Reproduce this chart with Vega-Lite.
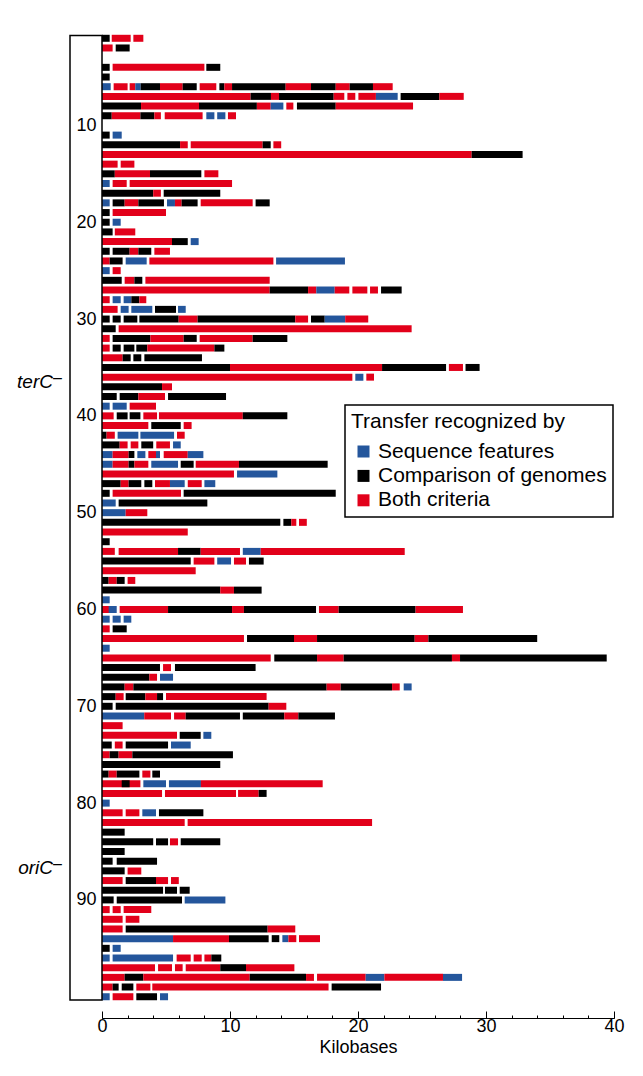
{
"$schema": "https://vega.github.io/schema/vega-lite/v6.json",
"width": 512, "height": 988,
"autosize": {"type": "none"},
"padding": {"left": 102, "top": 30, "right": 29, "bottom": 58},
"background": "white",
"config": {"view": {"stroke": null}, "font": "Liberation Sans", "text": {"font": "Liberation Sans"}},
"resolve": {"axis": {"x": "independent"}},
"layer": [
{
"data": {"values": [
{"r":1,"s":0,"e":0.6,"t":"C"},{"r":1,"s":0.76,"e":2.24,"t":"B"},{"r":1,"s":2.45,"e":3.23,"t":"B"},
{"r":2,"s":0,"e":0.83,"t":"B"},{"r":2,"s":1.07,"e":2.16,"t":"C"},
{"r":4,"s":0,"e":0.6,"t":"C"},{"r":4,"s":0.83,"e":8.0,"t":"B"},{"r":4,"s":8.15,"e":9.24,"t":"C"},
{"r":5,"s":0,"e":0.6,"t":"C"},
{"r":6,"s":0,"e":0.68,"t":"S"},{"r":6,"s":0.91,"e":2.0,"t":"B"},{"r":6,"s":2.16,"e":2.6,"t":"B"},{"r":6,"s":2.6,"e":3.02,"t":"S"},{"r":6,"s":3.02,"e":4.53,"t":"C"},{"r":6,"s":4.53,"e":6.3,"t":"B"},{"r":6,"s":6.3,"e":7.4,"t":"C"},{"r":6,"s":7.63,"e":8.93,"t":"B"},{"r":6,"s":9.17,"e":9.56,"t":"C"},{"r":6,"s":9.56,"e":10.16,"t":"B"},{"r":6,"s":10.16,"e":14.35,"t":"C"},{"r":6,"s":14.35,"e":16.33,"t":"B"},{"r":6,"s":16.33,"e":18.26,"t":"C"},{"r":6,"s":18.26,"e":19.35,"t":"B"},{"r":6,"s":19.35,"e":21.17,"t":"C"},{"r":6,"s":21.17,"e":22.71,"t":"B"},
{"r":7,"s":0,"e":11.61,"t":"B"},{"r":7,"s":11.61,"e":13.2,"t":"C"},{"r":7,"s":13.2,"e":13.83,"t":"B"},{"r":7,"s":13.83,"e":18.1,"t":"C"},{"r":7,"s":18.1,"e":18.93,"t":"B"},{"r":7,"s":19.17,"e":19.79,"t":"B"},{"r":7,"s":20.03,"e":21.4,"t":"B"},{"r":7,"s":21.4,"e":23.1,"t":"S"},{"r":7,"s":23.33,"e":26.35,"t":"C"},{"r":7,"s":26.35,"e":28.26,"t":"B"},
{"r":8,"s":0,"e":3.05,"t":"C"},{"r":8,"s":3.05,"e":7.58,"t":"B"},{"r":8,"s":7.58,"e":12.1,"t":"C"},{"r":8,"s":12.1,"e":13.18,"t":"B"},{"r":8,"s":13.18,"e":14.17,"t":"S"},{"r":8,"s":14.4,"e":14.95,"t":"B"},{"r":8,"s":15.23,"e":18.26,"t":"C"},{"r":8,"s":18.26,"e":24.3,"t":"B"},
{"r":9,"s":0,"e":0.76,"t":"C"},{"r":9,"s":0.76,"e":3.0,"t":"B"},{"r":9,"s":3.0,"e":4.09,"t":"C"},{"r":9,"s":4.09,"e":4.6,"t":"B"},{"r":9,"s":4.9,"e":7.86,"t":"B"},{"r":9,"s":8.15,"e":8.78,"t":"S"},{"r":9,"s":9.0,"e":9.64,"t":"S"},{"r":9,"s":9.84,"e":10.47,"t":"B"},
{"r":11,"s":0,"e":0.6,"t":"C"},{"r":11,"s":0.83,"e":1.54,"t":"S"},
{"r":12,"s":0,"e":6.1,"t":"C"},{"r":12,"s":6.1,"e":6.7,"t":"B"},{"r":12,"s":6.93,"e":12.55,"t":"B"},{"r":12,"s":12.55,"e":13.18,"t":"C"},{"r":12,"s":13.39,"e":14.0,"t":"B"},
{"r":13,"s":0,"e":28.88,"t":"B"},{"r":13,"s":28.88,"e":32.86,"t":"C"},
{"r":14,"s":0,"e":1.22,"t":"B"},{"r":14,"s":1.46,"e":2.53,"t":"B"},
{"r":15,"s":0,"e":1.0,"t":"C"},{"r":15,"s":1.0,"e":3.75,"t":"B"},{"r":15,"s":3.75,"e":7.76,"t":"C"},{"r":15,"s":8.0,"e":9.09,"t":"B"},
{"r":16,"s":0,"e":0.6,"t":"S"},{"r":16,"s":0.83,"e":1.93,"t":"B"},{"r":16,"s":2.16,"e":10.16,"t":"B"},
{"r":17,"s":0,"e":4.0,"t":"C"},{"r":17,"s":4.0,"e":4.6,"t":"B"},{"r":17,"s":4.82,"e":9.24,"t":"C"},
{"r":18,"s":0,"e":0.6,"t":"S"},{"r":18,"s":0.83,"e":1.77,"t":"C"},{"r":18,"s":1.77,"e":2.84,"t":"B"},{"r":18,"s":2.84,"e":4.84,"t":"C"},{"r":18,"s":5.08,"e":5.7,"t":"S"},{"r":18,"s":5.7,"e":6.22,"t":"B"},{"r":18,"s":6.22,"e":7.47,"t":"C"},{"r":18,"s":7.71,"e":11.77,"t":"B"},{"r":18,"s":12.0,"e":13.1,"t":"C"},
{"r":19,"s":0,"e":0.6,"t":"C"},{"r":19,"s":0.83,"e":5.0,"t":"B"},
{"r":20,"s":0,"e":0.6,"t":"C"},{"r":20,"s":0.83,"e":1.46,"t":"S"},
{"r":21,"s":0,"e":0.83,"t":"C"},{"r":21,"s":1.0,"e":2.6,"t":"B"},
{"r":22,"s":0,"e":5.47,"t":"B"},{"r":22,"s":5.47,"e":6.7,"t":"C"},{"r":22,"s":6.93,"e":7.55,"t":"S"},
{"r":23,"s":0,"e":0.6,"t":"C"},{"r":23,"s":0.83,"e":2.16,"t":"C"},{"r":23,"s":2.16,"e":2.84,"t":"B"},{"r":23,"s":2.84,"e":3.85,"t":"C"},{"r":23,"s":4.09,"e":5.31,"t":"B"},
{"r":24,"s":0,"e":0.6,"t":"B"},{"r":24,"s":0.6,"e":1.61,"t":"C"},{"r":24,"s":1.85,"e":3.49,"t":"S"},{"r":24,"s":3.7,"e":13.39,"t":"B"},{"r":24,"s":13.6,"e":18.98,"t":"S"},
{"r":25,"s":0,"e":0.6,"t":"S"},{"r":25,"s":0.83,"e":1.46,"t":"B"},
{"r":26,"s":0,"e":1.54,"t":"C"},{"r":26,"s":1.77,"e":2.53,"t":"B"},{"r":26,"s":2.53,"e":3.15,"t":"C"},{"r":26,"s":3.39,"e":13.1,"t":"B"},
{"r":27,"s":0,"e":13.1,"t":"B"},{"r":27,"s":13.1,"e":16.1,"t":"C"},{"r":27,"s":16.1,"e":16.74,"t":"B"},{"r":27,"s":16.74,"e":18.18,"t":"S"},{"r":27,"s":18.18,"e":19.32,"t":"B"},{"r":27,"s":19.56,"e":20.73,"t":"B"},{"r":27,"s":20.94,"e":21.56,"t":"B"},{"r":27,"s":21.8,"e":23.41,"t":"C"},
{"r":28,"s":0,"e":0.6,"t":"B"},{"r":28,"s":0.83,"e":1.46,"t":"S"},{"r":28,"s":1.69,"e":2.29,"t":"S"},{"r":28,"s":2.29,"e":2.92,"t":"C"},{"r":28,"s":2.92,"e":3.46,"t":"B"},
{"r":29,"s":0,"e":1.22,"t":"B"},{"r":29,"s":1.46,"e":2.08,"t":"S"},{"r":29,"s":2.29,"e":3.93,"t":"S"},{"r":29,"s":4.14,"e":5.78,"t":"C"},{"r":29,"s":5.94,"e":6.54,"t":"S"},
{"r":30,"s":0,"e":0.6,"t":"C"},{"r":30,"s":0.83,"e":1.46,"t":"C"},{"r":30,"s":1.69,"e":2.76,"t":"C"},{"r":30,"s":2.92,"e":5.99,"t":"C"},{"r":30,"s":5.99,"e":7.47,"t":"B"},{"r":30,"s":7.47,"e":15.1,"t":"C"},{"r":30,"s":15.1,"e":16.1,"t":"B"},{"r":30,"s":16.33,"e":17.4,"t":"C"},{"r":30,"s":17.4,"e":19.0,"t":"S"},{"r":30,"s":19.0,"e":20.8,"t":"B"},
{"r":31,"s":0,"e":1.07,"t":"C"},{"r":31,"s":1.3,"e":24.19,"t":"B"},
{"r":32,"s":0,"e":0.6,"t":"B"},{"r":32,"s":0.83,"e":3.78,"t":"C"},{"r":32,"s":3.78,"e":6.38,"t":"B"},{"r":32,"s":6.38,"e":7.4,"t":"C"},{"r":32,"s":7.63,"e":11.77,"t":"B"},{"r":32,"s":11.77,"e":14.48,"t":"C"},
{"r":33,"s":0,"e":0.6,"t":"B"},{"r":33,"s":0.83,"e":1.46,"t":"C"},{"r":33,"s":1.69,"e":2.53,"t":"C"},{"r":33,"s":2.68,"e":3.54,"t":"C"},{"r":33,"s":3.54,"e":8.78,"t":"B"},{"r":33,"s":8.78,"e":9.56,"t":"C"},
{"r":34,"s":0,"e":1.61,"t":"B"},{"r":34,"s":1.61,"e":2.24,"t":"C"},{"r":34,"s":2.45,"e":3.07,"t":"C"},{"r":34,"s":3.31,"e":7.81,"t":"C"},
{"r":35,"s":0,"e":10.0,"t":"C"},{"r":35,"s":10.0,"e":21.88,"t":"B"},{"r":35,"s":21.88,"e":26.88,"t":"C"},{"r":35,"s":27.1,"e":28.2,"t":"B"},{"r":35,"s":28.4,"e":29.5,"t":"C"},
{"r":36,"s":0,"e":19.56,"t":"B"},{"r":36,"s":19.79,"e":20.42,"t":"S"},{"r":36,"s":20.65,"e":21.25,"t":"B"},
{"r":37,"s":0,"e":4.69,"t":"C"},{"r":37,"s":4.69,"e":5.47,"t":"B"},
{"r":38,"s":0,"e":1.15,"t":"C"},{"r":38,"s":1.38,"e":2.84,"t":"C"},{"r":38,"s":2.84,"e":4.92,"t":"B"},{"r":38,"s":5.16,"e":9.69,"t":"C"},
{"r":39,"s":0,"e":0.6,"t":"S"},{"r":39,"s":0.83,"e":1.93,"t":"S"},{"r":39,"s":2.16,"e":4.22,"t":"B"},
{"r":40,"s":0,"e":0.91,"t":"B"},{"r":40,"s":1.15,"e":2.0,"t":"C"},{"r":40,"s":2.16,"e":3.0,"t":"C"},{"r":40,"s":3.23,"e":4.3,"t":"B"},{"r":40,"s":4.45,"e":11.0,"t":"B"},{"r":40,"s":11.0,"e":14.48,"t":"C"},
{"r":41,"s":0,"e":3.62,"t":"B"},{"r":41,"s":3.85,"e":6.15,"t":"C"},{"r":41,"s":6.38,"e":7.0,"t":"B"},
{"r":42,"s":0,"e":0.36,"t":"C"},{"r":42,"s":0.36,"e":1.0,"t":"B"},{"r":42,"s":1.22,"e":2.84,"t":"S"},{"r":42,"s":3.0,"e":5.63,"t":"S"},{"r":42,"s":5.86,"e":6.46,"t":"B"},
{"r":43,"s":0,"e":1.38,"t":"C"},{"r":43,"s":1.38,"e":2.0,"t":"B"},{"r":43,"s":2.24,"e":2.84,"t":"B"},{"r":43,"s":3.07,"e":4.0,"t":"C"},{"r":43,"s":4.24,"e":5.31,"t":"B"},{"r":43,"s":5.55,"e":6.15,"t":"S"},
{"r":44,"s":0,"e":0.83,"t":"S"},{"r":44,"s":0.83,"e":2.08,"t":"B"},{"r":44,"s":2.08,"e":2.53,"t":"C"},{"r":44,"s":2.76,"e":3.39,"t":"S"},{"r":44,"s":3.62,"e":4.22,"t":"B"},{"r":44,"s":4.22,"e":4.53,"t":"S"},{"r":44,"s":4.82,"e":6.7,"t":"B"},{"r":44,"s":6.7,"e":7.92,"t":"S"},
{"r":45,"s":0,"e":0.83,"t":"S"},{"r":45,"s":0.83,"e":2.08,"t":"B"},{"r":45,"s":2.08,"e":2.53,"t":"C"},{"r":45,"s":2.53,"e":3.62,"t":"B"},{"r":45,"s":3.85,"e":5.94,"t":"S"},{"r":45,"s":6.15,"e":7.16,"t":"C"},{"r":45,"s":7.32,"e":10.7,"t":"B"},{"r":45,"s":10.7,"e":17.63,"t":"C"},
{"r":46,"s":0,"e":10.31,"t":"B"},{"r":46,"s":10.55,"e":13.7,"t":"S"},
{"r":47,"s":0,"e":1.46,"t":"C"},{"r":47,"s":1.46,"e":2.08,"t":"B"},{"r":47,"s":2.08,"e":3.07,"t":"C"},{"r":47,"s":3.31,"e":3.93,"t":"C"},{"r":47,"s":4.14,"e":5.31,"t":"B"},{"r":47,"s":5.31,"e":6.46,"t":"S"},{"r":47,"s":6.7,"e":7.79,"t":"B"},{"r":47,"s":8.0,"e":8.85,"t":"S"},
{"r":48,"s":0,"e":0.6,"t":"C"},{"r":48,"s":0.83,"e":6.17,"t":"B"},{"r":48,"s":6.38,"e":18.26,"t":"C"},
{"r":49,"s":0,"e":1.07,"t":"S"},{"r":49,"s":1.3,"e":8.23,"t":"C"},
{"r":50,"s":0,"e":1.85,"t":"S"},{"r":50,"s":1.85,"e":3.54,"t":"B"},
{"r":51,"s":0,"e":13.93,"t":"C"},{"r":51,"s":14.17,"e":14.79,"t":"C"},{"r":51,"s":14.79,"e":15.18,"t":"B"},{"r":51,"s":15.39,"e":16.0,"t":"B"},
{"r":52,"s":0,"e":6.7,"t":"B"},
{"r":53,"s":0,"e":0.6,"t":"C"},
{"r":54,"s":0,"e":1.0,"t":"B"},{"r":54,"s":1.3,"e":5.94,"t":"B"},{"r":54,"s":5.94,"e":7.71,"t":"C"},{"r":54,"s":7.71,"e":10.78,"t":"B"},{"r":54,"s":11.0,"e":12.4,"t":"S"},{"r":54,"s":12.4,"e":23.65,"t":"B"},
{"r":55,"s":0,"e":6.93,"t":"C"},{"r":55,"s":7.16,"e":8.78,"t":"B"},{"r":55,"s":9.0,"e":10.08,"t":"S"},{"r":55,"s":10.31,"e":11.25,"t":"B"},{"r":55,"s":11.48,"e":12.63,"t":"C"},
{"r":56,"s":0,"e":7.32,"t":"B"},
{"r":57,"s":0,"e":0.52,"t":"C"},{"r":57,"s":0.52,"e":1.15,"t":"B"},{"r":57,"s":1.15,"e":1.77,"t":"C"},{"r":57,"s":2.0,"e":2.6,"t":"B"},
{"r":58,"s":0,"e":9.24,"t":"C"},{"r":58,"s":9.24,"e":10.31,"t":"B"},{"r":58,"s":10.31,"e":12.47,"t":"C"},
{"r":59,"s":0,"e":0.6,"t":"S"},
{"r":60,"s":0,"e":1.07,"t":"B"},{"r":60,"s":0.52,"e":1.15,"t":"S"},{"r":60,"s":1.38,"e":5.16,"t":"B"},{"r":60,"s":5.16,"e":10.16,"t":"C"},{"r":60,"s":10.16,"e":11.09,"t":"B"},{"r":60,"s":11.09,"e":16.72,"t":"C"},{"r":60,"s":16.95,"e":18.49,"t":"B"},{"r":60,"s":18.49,"e":24.5,"t":"C"},{"r":60,"s":24.5,"e":28.2,"t":"B"},
{"r":61,"s":0,"e":0.6,"t":"S"},{"r":61,"s":0.83,"e":1.46,"t":"S"},{"r":61,"s":1.69,"e":2.29,"t":"S"},
{"r":62,"s":0,"e":0.6,"t":"B"},{"r":62,"s":0.83,"e":1.93,"t":"C"},
{"r":63,"s":0,"e":11.09,"t":"B"},{"r":63,"s":11.33,"e":15.0,"t":"C"},{"r":63,"s":15.0,"e":16.8,"t":"B"},{"r":63,"s":16.8,"e":24.43,"t":"C"},{"r":63,"s":24.43,"e":25.5,"t":"B"},{"r":63,"s":25.5,"e":34.0,"t":"C"},
{"r":64,"s":0,"e":0.6,"t":"S"},
{"r":65,"s":0,"e":13.18,"t":"B"},{"r":65,"s":13.46,"e":16.8,"t":"C"},{"r":65,"s":16.8,"e":18.88,"t":"B"},{"r":65,"s":18.88,"e":27.34,"t":"C"},{"r":65,"s":27.34,"e":27.97,"t":"B"},{"r":65,"s":27.97,"e":39.43,"t":"C"},
{"r":66,"s":0,"e":4.53,"t":"C"},{"r":66,"s":4.77,"e":5.39,"t":"B"},{"r":66,"s":5.7,"e":12.0,"t":"C"},
{"r":67,"s":0,"e":3.7,"t":"C"},{"r":67,"s":3.7,"e":4.3,"t":"B"},{"r":67,"s":4.53,"e":5.55,"t":"S"},
{"r":68,"s":0,"e":1.77,"t":"C"},{"r":68,"s":1.77,"e":2.45,"t":"B"},{"r":68,"s":2.45,"e":17.55,"t":"C"},{"r":68,"s":17.55,"e":18.65,"t":"B"},{"r":68,"s":18.65,"e":22.66,"t":"C"},{"r":68,"s":22.66,"e":23.26,"t":"B"},{"r":68,"s":23.57,"e":24.19,"t":"S"},
{"r":69,"s":0,"e":1.07,"t":"C"},{"r":69,"s":1.07,"e":1.69,"t":"B"},{"r":69,"s":1.85,"e":3.39,"t":"C"},{"r":69,"s":3.39,"e":4.3,"t":"B"},{"r":69,"s":4.3,"e":4.77,"t":"C"},{"r":69,"s":5.0,"e":12.86,"t":"B"},
{"r":70,"s":0,"e":0.83,"t":"C"},{"r":70,"s":1.07,"e":13.02,"t":"C"},{"r":70,"s":13.02,"e":14.4,"t":"B"},
{"r":71,"s":0,"e":3.3,"t":"S"},{"r":71,"s":3.3,"e":5.39,"t":"B"},{"r":71,"s":5.63,"e":6.54,"t":"B"},{"r":71,"s":6.54,"e":10.78,"t":"C"},{"r":71,"s":11.0,"e":14.24,"t":"C"},{"r":71,"s":14.24,"e":15.34,"t":"B"},{"r":71,"s":15.34,"e":18.2,"t":"C"},
{"r":72,"s":0,"e":1.61,"t":"B"},
{"r":73,"s":0,"e":5.86,"t":"B"},{"r":73,"s":6.07,"e":7.71,"t":"C"},{"r":73,"s":7.92,"e":8.54,"t":"S"},
{"r":74,"s":0,"e":0.76,"t":"C"},{"r":74,"s":1.0,"e":1.61,"t":"B"},{"r":74,"s":1.85,"e":5.16,"t":"C"},{"r":74,"s":5.39,"e":6.93,"t":"S"},
{"r":75,"s":0,"e":0.6,"t":"B"},{"r":75,"s":0.6,"e":1.3,"t":"C"},{"r":75,"s":1.3,"e":2.37,"t":"B"},{"r":75,"s":2.37,"e":10.23,"t":"C"},
{"r":76,"s":0,"e":9.24,"t":"C"},
{"r":77,"s":0,"e":0.52,"t":"C"},{"r":77,"s":0.52,"e":1.15,"t":"B"},{"r":77,"s":1.15,"e":2.92,"t":"C"},{"r":77,"s":3.15,"e":3.78,"t":"B"},{"r":77,"s":3.93,"e":4.53,"t":"C"},
{"r":78,"s":0,"e":3.0,"t":"B"},{"r":78,"s":1.54,"e":2.16,"t":"C"},{"r":78,"s":3.23,"e":5.0,"t":"S"},{"r":78,"s":5.23,"e":7.73,"t":"S"},{"r":78,"s":7.73,"e":17.24,"t":"B"},
{"r":79,"s":0,"e":4.69,"t":"B"},{"r":79,"s":4.92,"e":10.47,"t":"B"},{"r":79,"s":10.63,"e":12.24,"t":"B"},{"r":79,"s":12.24,"e":12.86,"t":"C"},
{"r":80,"s":0,"e":0.6,"t":"S"},
{"r":81,"s":0,"e":1.61,"t":"B"},{"r":81,"s":1.85,"e":2.92,"t":"B"},{"r":81,"s":3.15,"e":4.22,"t":"S"},{"r":81,"s":4.45,"e":7.92,"t":"C"},
{"r":82,"s":0,"e":6.46,"t":"B"},{"r":82,"s":6.69,"e":21.1,"t":"B"},
{"r":83,"s":0,"e":1.77,"t":"C"},
{"r":84,"s":0,"e":4.0,"t":"C"},{"r":84,"s":4.22,"e":5.16,"t":"C"},{"r":84,"s":5.31,"e":5.94,"t":"B"},{"r":84,"s":6.15,"e":9.24,"t":"C"},
{"r":85,"s":0,"e":1.77,"t":"C"},
{"r":86,"s":0,"e":0.83,"t":"C"},{"r":86,"s":1.15,"e":4.3,"t":"C"},
{"r":87,"s":0,"e":1.77,"t":"C"},{"r":87,"s":2.0,"e":3.07,"t":"B"},
{"r":88,"s":0,"e":1.61,"t":"B"},{"r":88,"s":1.85,"e":4.22,"t":"C"},{"r":88,"s":4.22,"e":5.16,"t":"B"},{"r":88,"s":5.39,"e":6.0,"t":"B"},
{"r":89,"s":0,"e":4.77,"t":"C"},{"r":89,"s":4.92,"e":5.86,"t":"C"},{"r":89,"s":6.07,"e":6.85,"t":"C"},
{"r":90,"s":0,"e":0.91,"t":"C"},{"r":90,"s":1.15,"e":6.25,"t":"C"},{"r":90,"s":6.46,"e":9.64,"t":"S"},
{"r":91,"s":0,"e":0.6,"t":"B"},{"r":91,"s":0.83,"e":1.46,"t":"B"},{"r":91,"s":1.69,"e":3.85,"t":"B"},
{"r":92,"s":0,"e":1.61,"t":"B"},{"r":92,"s":1.85,"e":2.92,"t":"B"},
{"r":93,"s":0,"e":1.61,"t":"B"},{"r":93,"s":1.85,"e":12.94,"t":"C"},{"r":93,"s":12.94,"e":15.1,"t":"B"},
{"r":94,"s":0,"e":5.55,"t":"S"},{"r":94,"s":5.55,"e":9.92,"t":"B"},{"r":94,"s":9.92,"e":13.02,"t":"C"},{"r":94,"s":13.26,"e":13.85,"t":"C"},{"r":94,"s":14.09,"e":14.56,"t":"S"},{"r":94,"s":14.56,"e":15.18,"t":"B"},{"r":94,"s":15.39,"e":17.03,"t":"B"},
{"r":95,"s":0,"e":0.6,"t":"C"},{"r":95,"s":0.83,"e":1.46,"t":"S"},
{"r":96,"s":0,"e":0.6,"t":"S"},{"r":96,"s":0.83,"e":5.55,"t":"S"},{"r":96,"s":5.83,"e":6.93,"t":"B"},{"r":96,"s":7.16,"e":7.79,"t":"B"},{"r":96,"s":8.0,"e":8.54,"t":"B"},{"r":96,"s":8.54,"e":9.32,"t":"C"},
{"r":97,"s":0,"e":4.14,"t":"B"},{"r":97,"s":4.38,"e":5.47,"t":"B"},{"r":97,"s":5.7,"e":6.3,"t":"B"},{"r":97,"s":6.54,"e":9.24,"t":"B"},{"r":97,"s":9.24,"e":11.25,"t":"C"},{"r":97,"s":11.25,"e":15.03,"t":"B"},
{"r":98,"s":0,"e":1.77,"t":"B"},{"r":98,"s":1.77,"e":3.23,"t":"C"},{"r":98,"s":3.23,"e":11.54,"t":"B"},{"r":98,"s":11.54,"e":15.94,"t":"C"},{"r":98,"s":15.94,"e":16.56,"t":"B"},{"r":98,"s":16.8,"e":20.6,"t":"B"},{"r":98,"s":20.6,"e":22.06,"t":"S"},{"r":98,"s":22.06,"e":26.64,"t":"B"},{"r":98,"s":26.64,"e":28.13,"t":"S"},
{"r":99,"s":0,"e":0.83,"t":"B"},{"r":99,"s":0.83,"e":1.3,"t":"C"},{"r":99,"s":1.54,"e":2.45,"t":"C"},{"r":99,"s":2.68,"e":3.78,"t":"B"},{"r":99,"s":3.93,"e":17.7,"t":"B"},{"r":99,"s":17.94,"e":21.8,"t":"C"},
{"r":100,"s":0,"e":0.6,"t":"S"},{"r":100,"s":0.83,"e":2.45,"t":"B"},{"r":100,"s":2.68,"e":4.3,"t":"C"},{"r":100,"s":4.53,"e":5.16,"t":"S"}
]},
"mark": {"type": "bar", "height": 7},
"encoding": {
"x": {"field": "s", "type": "quantitative", "scale": {"domain": [0, 40], "nice": false, "zero": false},
 "axis": {"title": "Kilobases", "orient": "bottom", "values": [0,10,20,30,40], "labelOverlap": false, "labelFlush": false, "labelBound": false,
  "tickSize": -7, "domainColor": "black", "tickColor": "black", "labelColor": "black", "titleColor": "black",
  "labelFontSize": 18, "titleFontSize": 18, "titleFontWeight": "normal", "labelPadding": 6, "titlePadding": 3, "grid": false, "labelFont": "Liberation Sans", "titleFont": "Liberation Sans"}},
"x2": {"field": "e"},
"y": {"field": "r", "type": "quantitative", "scale": {"domain": [0.66, 101.68], "reverse": true, "nice": false, "zero": false},
 "axis": {"title": null, "values": [10,20,30,40,50,60,70,80,90], "domain": false, "ticks": false, "labelPadding": 6, "labelFontSize": 18, "labelColor": "black", "grid": false, "labelFont": "Liberation Sans"}},
"color": {"field": "t", "type": "nominal", "scale": {"domain": ["S","C","B"], "range": ["#24569c","#000000","#e2001a"]},
 "legend": {"title": "Transfer recognized by", "orient": "none", "legendX": 243, "legendY": 375,
  "labelExpr": "datum.value === 'S' ? 'Sequence features' : datum.value === 'C' ? 'Comparison of genomes' : 'Both criteria'",
  "symbolType": "square", "symbolSize": 144, "symbolStrokeWidth": 0, "symbolOpacity": 1, "symbolOffset": 2,
  "titleFontSize": 21, "labelFontSize": 21, "titleFontWeight": "normal", "titleColor": "black", "labelColor": "black",
  "titleFont": "Liberation Sans", "labelFont": "Liberation Sans", "labelLimit": 0, "titleLimit": 0,
  "strokeColor": "black", "fillColor": "white", "padding": 6, "titlePadding": 9, "rowPadding": 2.4, "labelOffset": 4,
  "encode": {"legend": {"update": {"strokeWidth": {"value": 1.5}}}}}}
}
},
{
"data": {"values": [{"x1": -2.5, "x2": 0, "y1": 0.71, "y2": 100.33}]},
"mark": {"type": "rect", "fill": "transparent", "stroke": "black", "strokeWidth": 1.5, "clip": false},
"encoding": {
"x": {"field": "x1", "type": "quantitative", "axis": {"orient": "bottom", "title": null, "values": [0,2,4,6,8,10,12,14,16,18,20,22,24,26,28,30,32,34,36,38,40], "labels": false, "domain": false, "tickSize": -3, "tickColor": "black", "grid": false}},
"x2": {"field": "x2"}, "y": {"field": "y1", "type": "quantitative"}, "y2": {"field": "y2"}}
},
{
"data": {"values": [{"lab": "terC", "x": -2.5, "r": 36.55}, {"lab": "oriC", "x": -2.5, "r": 86.7}]},
"mark": {"type": "text", "align": "right", "baseline": "middle", "dx": -17, "fontSize": 19, "fontStyle": "italic", "font": "Liberation Sans", "color": "black", "clip": false},
"encoding": {"x": {"field": "x", "type": "quantitative", "axis": null}, "y": {"field": "r", "type": "quantitative"}, "text": {"field": "lab"}}
},
{
"data": {"values": [{"lab": "–", "x": -2.5, "r": 36.55}, {"lab": "–", "x": -2.5, "r": 86.7}]},
"mark": {"type": "text", "align": "left", "baseline": "middle", "dx": -17, "dy": -4, "fontSize": 16, "font": "Liberation Sans", "color": "black", "clip": false},
"encoding": {"x": {"field": "x", "type": "quantitative", "axis": null}, "y": {"field": "r", "type": "quantitative"}, "text": {"field": "lab"}}
}
]
}
